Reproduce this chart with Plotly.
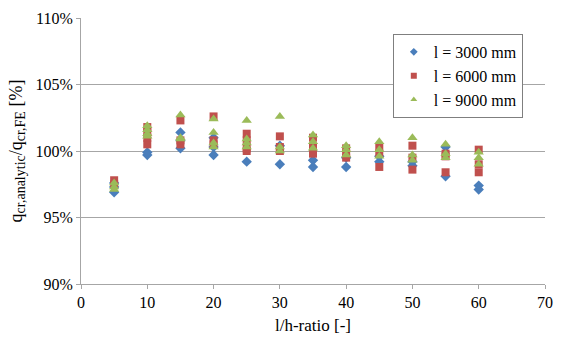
import plotly.graph_objects as go

# l/h ratios (x) and q_cr,analytic/q_cr,FE values [%] per beam length
x_3000 = [5, 5, 5, 10, 10, 15, 15, 15, 20, 20, 20, 25, 30, 30, 35, 35, 40, 40, 45, 45, 50, 50, 55, 55, 60, 60]
y_3000 = [96.9, 97.3, 97.6, 99.7, 99.9, 100.2, 101.4, 100.8, 99.7, 100.3, 101.0, 99.2, 99.0, 100.4,
          98.8, 99.3, 98.8, 99.5, 99.2, 99.6, 98.9, 99.2, 98.1, 100.3, 97.4, 97.1]

x_6000 = [5, 5, 10, 10, 10, 10, 15, 15, 15, 20, 20, 20, 25, 25, 25, 25, 30, 30, 30, 35, 35, 35,
          40, 40, 40, 45, 45, 45, 50, 50, 50, 55, 55, 55, 60, 60, 60]
y_6000 = [97.8, 97.5, 100.5, 101.0, 101.5, 101.8, 100.5, 100.8, 102.3, 102.6, 100.5, 100.8,
          101.3, 100.8, 100.2, 100.0, 101.1, 100.0, 100.3, 101.0, 99.8, 100.3,
          99.8, 99.5, 100.2, 98.8, 99.8, 100.3, 98.6, 99.5, 100.4, 98.4, 99.8, 99.6, 100.1, 99.0, 98.4]

x_9000 = [5, 5, 5, 10, 10, 10, 10, 15, 15, 15, 20, 20, 20, 20, 25, 25, 25, 25, 30, 30, 30,
          35, 35, 35, 40, 40, 40, 45, 45, 45, 50, 50, 50, 55, 55, 55, 60, 60, 60]
y_9000 = [97.3, 97.6, 97.1, 101.3, 101.6, 101.9, 101.1, 102.7, 101.0, 100.9, 102.4, 101.4, 100.3, 100.6,
          102.3, 100.6, 100.3, 100.9, 102.6, 100.3, 100.0, 101.2, 100.2, 100.7,
          100.4, 100.1, 99.7, 100.7, 100.1, 99.6, 101.0, 99.3, 99.7, 100.5, 99.5, 99.8, 99.9, 99.5, 99.0]

series_names = ["l = 3000 mm", "l = 6000 mm", "l = 9000 mm"]
y_ticks = [90, 95, 100, 105, 110]
y_tick_labels = ["90%", "95%", "100%", "105%", "110%"]
x_ticks = [0, 10, 20, 30, 40, 50, 60, 70]

FONT = "Liberation Serif, Times New Roman, serif"
COLORS = ["#4A7EBB", "#C0504D", "#9BBB59"]
SYMBOLS = ["diamond", "square", "triangle-up"]
SIZES = [8, 8, 9]

fig = go.Figure()
for xs, ys, c, s, sz, n in zip([x_3000, x_6000, x_9000], [y_3000, y_6000, y_9000],
                               COLORS, SYMBOLS, SIZES, series_names):
    fig.add_trace(go.Scatter(x=xs, y=ys, mode="markers", name=n, showlegend=False,
                             marker=dict(symbol=s, size=sz, color=c)))
# legend entries with small markers, as in the reference
for c, s, n in zip(COLORS, SYMBOLS, series_names):
    fig.add_trace(go.Scatter(x=[None], y=[None], mode="markers", name=n,
                             marker=dict(symbol=s, size=6, color=c)))

fig.update_layout(
    width=563, height=341,
    margin=dict(l=81, r=10, t=15, b=57),
    paper_bgcolor="white", plot_bgcolor="white",
    font=dict(family=FONT, size=16, color="black"),
    legend=dict(x=0.672, y=0.94, xanchor="left", yanchor="top",
                bordercolor="#7F7F7F", borderwidth=1, bgcolor="white",
                font=dict(family=FONT, size=16), itemwidth=30),
    xaxis=dict(range=[0, 70], tickvals=x_ticks, showgrid=False,
               showline=True, linecolor="#A6A6A6", linewidth=1,
               ticks="outside", ticklen=4, tickcolor="#A6A6A6",
               title=dict(text="l/h-ratio [-]", standoff=8, font=dict(family=FONT, size=17)),
               zeroline=False),
    yaxis=dict(range=[90, 110], tickvals=y_ticks, ticktext=y_tick_labels,
               showgrid=True, gridcolor="#A6A6A6", gridwidth=1,
               showline=True, linecolor="#A6A6A6", linewidth=1,
               ticks="outside", ticklen=4, tickcolor="#A6A6A6",
               title=dict(text="q<sub><span style='font-size:14px'>cr,analytic</span></sub>/q<sub><span style='font-size:14px'>cr,FE</span></sub> [%]",
                          standoff=8, font=dict(family=FONT, size=18)),
               zeroline=False),
)

fig.write_html("out.html")
